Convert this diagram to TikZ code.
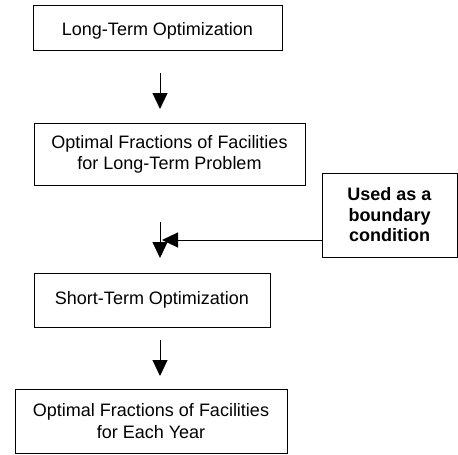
\documentclass[tikz,border=0pt]{standalone}
\usepackage{fontspec}
\setmainfont{Liberation Sans}
\usetikzlibrary{arrows.meta}
\begin{document}
\begin{tikzpicture}[x=1pt,y=-1pt,
  box/.style={draw, line width=1pt, align=center, inner sep=0pt,
    font=\fontsize{18}{21.5}\selectfont},
  arr/.style={line width=1pt, -{Triangle[width=15pt,length=16pt]}}]
\useasboundingbox (0,0) rectangle (458,455);
\node[box, minimum width=249pt, minimum height=45pt] (b1) at (157.5,27.5) {\rule{0pt}{20pt}Long-Term Optimization};
\node[box, minimum width=271pt, minimum height=62pt] (b2) at (169.5,154.5) {Optimal Fractions of Facilities\\for Long-Term Problem};
\node[box, minimum width=135pt, minimum height=84pt, font=\fontsize{18}{20.5}\selectfont\bfseries] (b3) at (389.5,215) {Used as a\\boundary\\condition};
\node[box, minimum width=236pt, minimum height=54pt] (b4) at (152,300) {Short-Term Optimization};
\node[box, minimum width=272pt, minimum height=64pt] (b5) at (151,421) {Optimal Fractions of Facilities\\for Each Year};
\coordinate (a1s) at (160,73);
\coordinate (a1e) at (160,109);
\coordinate (a2s) at (160,222);
\coordinate (a2e) at (160,258);
\coordinate (a3s) at (160,340);
\coordinate (a3e) at (160,376);
\coordinate (hs) at (b3.west |- 0,240);
\coordinate (he) at (162,240);
\draw[arr] (a1s) -- (a1e);
\draw[arr] (a2s) -- (a2e);
\draw[arr] (a3s) -- (a3e);
\draw[arr] (hs) -- (he);
\end{tikzpicture}
\end{document}
